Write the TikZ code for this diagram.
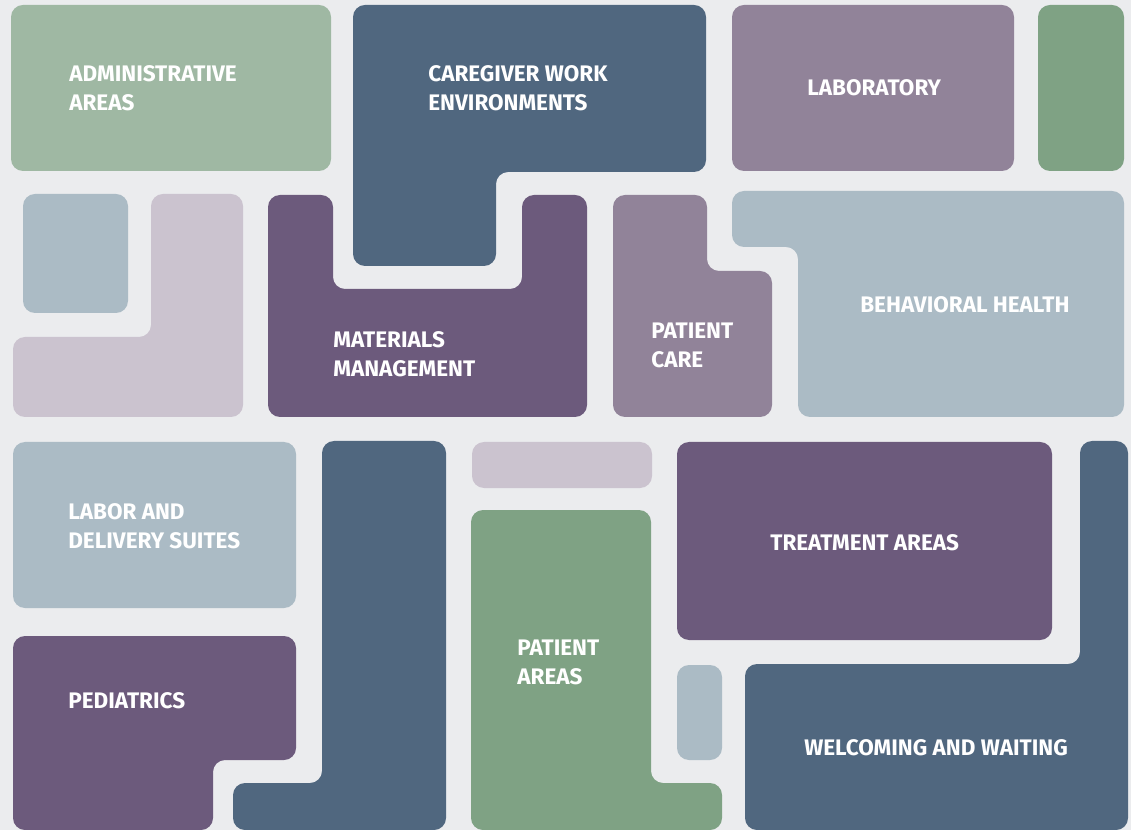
\documentclass[tikz,border=0pt]{standalone}
\usepackage{fontspec}
\setmainfont{Fira Sans}
\definecolor{bgray}{HTML}{EBECEE}
\definecolor{sage}{HTML}{9FB8A3}
\definecolor{slate}{HTML}{50677F}
\definecolor{mauve}{HTML}{918399}
\definecolor{moss}{HTML}{7FA284}
\definecolor{mist}{HTML}{ABBBC5}
\definecolor{blush}{HTML}{CBC3CF}
\definecolor{plum}{HTML}{6C5A7C}
\tikzset{
	room/.style={fill=#1, rounded corners=0.24cm},
	roomlabel/.style={anchor=west, inner sep=0pt, align=left, text=white,
		font=\fontsize{12.8}{16.6}\selectfont\bfseries}
}
\begin{document}
\begin{tikzpicture}[x=0.02cm, y=-0.02cm]
				\fill[bgray] (0,0) rectangle (1131,830);
				\useasboundingbox (0,0) rectangle (1131,830);
				% top row
				\fill[room=sage] (11,5) rectangle (331,171);
				\fill[room=slate] (353,5) -- (706,5) -- (706,172) -- (496,172) -- (496,266) -- (353,266) -- cycle;
				\fill[room=mauve] (732,5) rectangle (1014,171);
				\fill[room=moss] (1038,5) rectangle (1124,171);
				% middle row
				\fill[room=mist] (23,194) rectangle (128,313);
				\fill[room=blush] (151,194) -- (243,194) -- (243,417) -- (13,417) -- (13,337) -- (151,337) -- cycle;
				\fill[room=plum] (268,195) -- (333,195) -- (333,289) -- (522,289) -- (522,195) -- (587,195) -- (587,417) -- (268,417) -- cycle;
				\fill[room=mauve] (613,195) -- (707,195) -- (707,271) -- (772,271) -- (772,417) -- (613,417) -- cycle;
				\fill[room=mist] (732,191) -- (1124,191) -- (1124,417) -- (798,417) -- (798,247) -- (732,247) -- cycle;
				% bottom row
				\fill[room=mist] (13,442) rectangle (296,608);
				\fill[room=plum] (13,636) -- (296,636) -- (296,760) -- (213,760) -- (213,830) -- (13,830) -- cycle;
				\fill[room=slate] (322,441) -- (446,441) -- (446,830) -- (233,830) -- (233,783) -- (322,783) -- cycle;
				\fill[room=blush] (472,442) rectangle (652,488);
				\fill[room=moss] (471,510) -- (651,510) -- (651,783) -- (722,783) -- (722,830) -- (471,830) -- cycle;
				\fill[room=plum] (677,442) rectangle (1052,640);
				\fill[room=mist] (677,665) rectangle (722,760);
				\fill[room=slate] (1080,441) -- (1128,441) -- (1128,830) -- (745,830) -- (745,664) -- (1080,664) -- cycle;
				% labels
				\node[roomlabel] (admin) at (69,88) {ADMINISTRATIVE\\AREAS};
				\node[roomlabel] (caregiver) at (428,88) {CAREGIVER WORK\\ENVIRONMENTS};
				\node[roomlabel] (lab) at (807,88) {LABORATORY};
				\node[roomlabel] (materials) at (333,354) {MATERIALS\\MANAGEMENT};
				\node[roomlabel] (patientcare) at (651,345) {PATIENT\\CARE};
				\node[roomlabel] (behavioral) at (860,305) {BEHAVIORAL HEALTH};
				\node[roomlabel] (labor) at (68,526) {LABOR AND\\DELIVERY SUITES};
				\node[roomlabel] (pediatrics) at (68,701) {PEDIATRICS};
				\node[roomlabel] (patientareas) at (517,662) {PATIENT\\AREAS};
				\node[roomlabel] (treatment) at (770,543) {TREATMENT AREAS};
				\node[roomlabel] (welcoming) at (804,748) {WELCOMING AND WAITING};
			\end{tikzpicture}
\end{document}
